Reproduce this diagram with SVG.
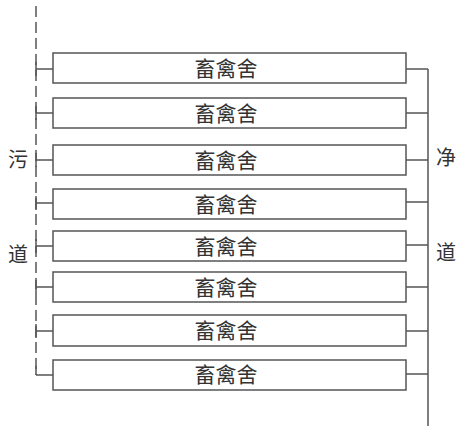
<svg xmlns="http://www.w3.org/2000/svg" width="458" height="429" viewBox="0 0 458 429">
<style>
.box{fill:#fff;stroke:#555;stroke-width:1.5}
.ln{fill:none;stroke:#555;stroke-width:1.5}
.dash{fill:none;stroke:#555;stroke-width:1.5;stroke-dasharray:11 5}
.t{font-family:"Noto Sans CJK SC","Noto Sans CJK JP",sans-serif;font-size:21px;fill:#333;text-anchor:middle}
.s{font-family:"Noto Sans CJK SC","Noto Sans CJK JP",sans-serif;font-size:20px;fill:#333;text-anchor:middle}
</style>
<rect width="458" height="429" fill="#fff"/>
<g id="connectors">
<path class="dash" d="M36,6 V375"/>
<path class="ln" d="M36,375 H53"/>
<path class="ln" d="M36,69 H53 M36,113 H53 M36,160 H53 M36,203 H53 M36,246 H53 M36,287 H53 M36,331 H53"/>
<path class="ln" d="M36,62 V76 M36,106 V120 M36,153 V167 M36,196 V210 M36,239 V253 M36,280 V294 M36,324 V338 M36,366 V375"/>
<path class="ln" d="M406,69 H428 M406,113 H428 M406,160 H428 M406,202 H428 M406,245 H428 M406,287 H428 M406,331 H428 M406,374 H428"/>
<path class="ln" d="M428,69 V426"/>
</g>
<g id="n1"><rect class="box" x="53" y="53" width="353" height="30"/><text class="t" x="226" y="76">畜禽舍</text></g>
<g id="n2"><rect class="box" x="53" y="98" width="353" height="30"/><text class="t" x="226" y="121">畜禽舍</text></g>
<g id="n3"><rect class="box" x="53" y="145" width="353" height="30"/><text class="t" x="226" y="168">畜禽舍</text></g>
<g id="n4"><rect class="box" x="53" y="189" width="353" height="30"/><text class="t" x="226" y="212">畜禽舍</text></g>
<g id="n5"><rect class="box" x="53" y="231" width="353" height="30"/><text class="t" x="226" y="254">畜禽舍</text></g>
<g id="n6"><rect class="box" x="53" y="272" width="353" height="30"/><text class="t" x="226" y="295">畜禽舍</text></g>
<g id="n7"><rect class="box" x="53" y="315" width="353" height="31"/><text class="t" x="226" y="338">畜禽舍</text></g>
<g id="n8"><rect class="box" x="53" y="360" width="353" height="30"/><text class="t" x="226" y="382">畜禽舍</text></g>
<g id="labels">
<text class="s" x="18" y="167">污</text>
<text class="s" x="18" y="262">道</text>
<text class="s" x="446" y="165">净</text>
<text class="s" x="446" y="260">道</text>
</g>
</svg>
